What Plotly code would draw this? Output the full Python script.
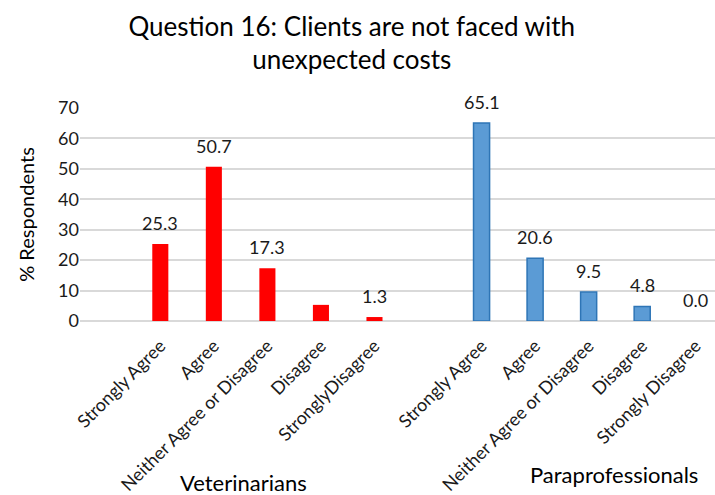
import plotly.graph_objects as go

groups = ["Veterinarians", "Paraprofessionals"]
vet_labels = ["Strongly Agree", "Agree", "Neither Agree or Disagree", "Disagree", "StronglyDisagree"]
para_labels = ["Strongly Agree", "Agree", "Neither Agree or Disagree", "Disagree", "Strongly Disagree"]
vet_values = [25.3, 50.7, 17.3, 5.3, 1.3]
para_values = [65.1, 20.6, 9.5, 4.8, 0.0]
vet_text = ["25.3", "50.7", "17.3", "", "1.3"]
para_text = ["65.1", "20.6", "9.5", "4.8", "0.0"]
y_ticks = [0, 10, 20, 30, 40, 50, 60, 70]

FONT = "Lato"
vet_x = [1 + i for i in range(len(vet_labels))]
para_x = [len(vet_labels) + 2 + i for i in range(len(para_labels))]

fig = go.Figure()
fig.add_trace(go.Bar(x=vet_x, y=vet_values, width=0.3,
                     marker=dict(color="#FF0000", line=dict(width=0))))
fig.add_trace(go.Bar(x=para_x, y=para_values, width=0.3,
                     marker=dict(color="#5B9BD5",
                                 line=dict(color="#2E75B6",
                                           width=[1.5 if v > 0 else 0 for v in para_values]))))

for xs, vs, ts in [(vet_x, vet_values, vet_text), (para_x, para_values, para_text)]:
    for x, v, t in zip(xs, vs, ts):
        if t:
            fig.add_annotation(x=x, y=v, text=t, showarrow=False, yanchor="bottom",
                               yshift=8, font=dict(family=FONT, size=18, color="#1a1a1a"))

fig.add_annotation(x=0.257, xref="paper", y=-0.756, yref="paper", text=groups[0],
                   showarrow=False, xanchor="center", yanchor="middle",
                   font=dict(family=FONT, size=22, color="black"))
fig.add_annotation(x=0.841, xref="paper", y=-0.723, yref="paper", text=groups[1],
                   showarrow=False, xanchor="center", yanchor="middle",
                   font=dict(family=FONT, size=22, color="black"))

fig.update_layout(
    width=715, height=495,
    margin=dict(l=80, r=0, t=108, b=174),
    paper_bgcolor="white", plot_bgcolor="white",
    showlegend=False,
    title=dict(text="Question 16: Clients are not faced with<br>unexpected costs",
               x=0.492, xanchor="center", y=0.928, yanchor="middle",
               font=dict(family=FONT, size=26, color="black")),
    xaxis=dict(range=[-0.5, 11.36], tickvals=vet_x + para_x, ticktext=vet_labels + para_labels,
               tickangle=-45, tickfont=dict(family=FONT, size=18, color="#1a1a1a"),
               ticklabelstandoff=10,
               showgrid=False, zeroline=False, showline=False, ticks=""),
    yaxis=dict(range=[0, 70], tickvals=y_ticks, showgrid=True, gridcolor="#D9D9D9", gridwidth=1.5,
               zeroline=True, zerolinecolor="#D9D9D9", zerolinewidth=1.5,
               tickfont=dict(family=FONT, size=18, color="#1a1a1a"), ticks="",
               title=dict(text="% Respondents", font=dict(family=FONT, size=20, color="black"),
                          standoff=18)),
)
fig.write_html("out.html")
